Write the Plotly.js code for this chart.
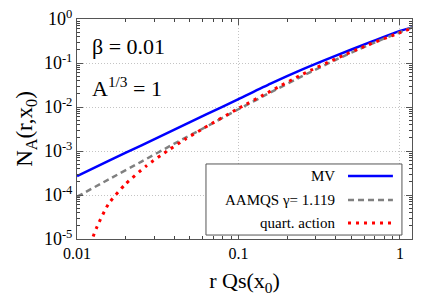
<!DOCTYPE html>
<html><head><meta charset="utf-8">
<script src="https://cdn.plot.ly/plotly-3.0.1.min.js"></script>
<style>html,body{margin:0;padding:0;background:#fff}#c{width:436px;height:305px}</style>
</head><body><div id="c"></div>
<script>
// r Qs(x0) values and N_A values
var rGrid = [0.01, 0.0158, 0.0251, 0.0398, 0.0631, 0.1, 0.158, 0.251, 0.398, 0.631, 1.0, 1.19];
var nMV = [2.69e-4, 6.03e-4, 1.35e-3, 3.02e-3, 6.76e-3, 1.51e-2, 3.39e-2, 7.24e-2, 0.145, 0.282, 0.537, 0.646];
var nAAMQS = [9.1e-5, 2.29e-4, 5.75e-4, 1.45e-3, 3.55e-3, 8.9e-3, 2.14e-2, 5.13e-2, 0.117, 0.251, 0.50, 0.646];
var rQuart = [0.0121, 0.01245, 0.01324, 0.01563, 0.01986, 0.02685, 0.0369, 0.04688, 0.061, 0.1, 0.158, 0.251, 0.398, 0.631, 1.0, 1.19];
var nQuart = [5e-6, 1e-5, 1.82e-5, 6.17e-5, 1.74e-4, 4.57e-4, 1.05e-3, 1.86e-3, 3.31e-3, 9.3e-3, 2.29e-2, 5.62e-2, 0.123, 0.257, 0.49, 0.617];
var seriesNames = ["MV", "AAMQS γ= 1.119", "quart. action"];
var xTickVals = [0.01, 0.1, 1];
var xTickText = ["0.01", "0.1", "1"];
var yTickVals = [1e-5, 1e-4, 1e-3, 1e-2, 1e-1, 1];
var yTickText = ["10<sup>-5</sup>", "10<sup>-4</sup>", "10<sup>-3</sup>", "10<sup>-2</sup>", "10<sup>-1</sup>", "10<sup>0</sup>"];
var minorDigits = [2, 3, 4, 5, 6, 7, 8, 9];
var xMinorDecades = [0.01, 0.1, 1];
var yMinorDecades = [1e-5, 1e-4, 1e-3, 1e-2, 1e-1];

var FONT = "Liberation Serif";
var colors = ["#0000ff", "#808080", "#ff0000"];
var dashes = ["solid", "6px,4px", "3px,5px"];
var widths = [2.5, 2.5, 3];
var xRange = [-2, 0.0745], yRange = [-5, 0];

function minorVals(decades) {
  var v = [];
  decades.forEach(function (d) { minorDigits.forEach(function (m) { v.push(m * d); }); });
  return v;
}

var traces = [
  {x: rGrid, y: nMV, name: seriesNames[0]},
  {x: rGrid, y: nAAMQS, name: seriesNames[1]},
  {x: rQuart, y: nQuart, name: seriesNames[2]}
].map(function (t, i) {
  t.type = "scatter"; t.mode = "lines";
  t.line = {color: colors[i], width: widths[i], dash: dashes[i], shape: "spline", smoothing: 0.6};
  t.showlegend = false;
  return t;
});
// empty helper trace so the minor-tick overlay axes are drawn
traces.push({type: "scatter", mode: "lines", x: [], y: [], xaxis: "x2", yaxis: "y2", showlegend: false});

var frame = "#555555";
function majorAxis(extra) {
  return Object.assign({
    type: "log", showline: true, linecolor: frame, linewidth: 1, mirror: "ticks",
    ticks: "inside", ticklen: 6, tickcolor: frame, tickwidth: 1,
    showgrid: true, gridcolor: "#c4c4c4", griddash: "1px,2px", gridwidth: 1,
    zeroline: false, tickmode: "array"
  }, extra);
}
function minorAxis(extra) {
  return Object.assign({
    type: "log", showline: true, linecolor: frame, linewidth: 1, mirror: "ticks",
    ticks: "inside", ticklen: 3, tickcolor: "#444444", tickwidth: 1,
    showgrid: false, zeroline: false, showticklabels: false, tickmode: "array"
  }, extra);
}

var layout = {
  width: 436, height: 305,
  margin: {l: 77, r: 24, t: 19, b: 66},
  paper_bgcolor: "#ffffff", plot_bgcolor: "#ffffff",
  showlegend: false,
  font: {family: FONT, size: 16, color: "#000000"},
  xaxis: majorAxis({
    range: xRange, tickvals: xTickVals, ticktext: xTickText,
    tickfont: {family: FONT, size: 16, color: "#000000"},
    title: {text: "r Qs(x<sub>0</sub>)", font: {family: FONT, size: 22, color: "#000000"}, standoff: 11}
  }),
  yaxis: majorAxis({
    range: yRange, tickvals: yTickVals, ticktext: yTickText,
    tickfont: {family: FONT, size: 18, color: "#000000"},
    title: {text: "N<sub>A</sub>(r,x<sub>0</sub>)", font: {family: FONT, size: 23, color: "#000000"}, standoff: 4}
  }),
  xaxis2: minorAxis({overlaying: "x", anchor: "y2", side: "bottom", range: xRange, tickvals: minorVals(xMinorDecades)}),
  yaxis2: minorAxis({overlaying: "y", anchor: "x2", side: "left", range: yRange, tickvals: minorVals(yMinorDecades)}),
  annotations: [
    {xref: "paper", yref: "paper", x: 0.04, y: 0.875, xanchor: "left", yanchor: "middle", showarrow: false,
     text: "β = 0.01", font: {family: FONT, size: 22, color: "#000000"}},
    {xref: "paper", yref: "paper", x: 0.04, y: 0.69, xanchor: "left", yanchor: "middle", showarrow: false,
     text: "A<sup>1/3</sup> = 1", font: {family: FONT, size: 22, color: "#000000"}}
  ],
  shapes: [
    {type: "rect", xref: "paper", yref: "paper", x0: 0.385, x1: 0.970, y0: 0.018, y1: 0.341,
     line: {color: frame, width: 1}, fillcolor: "#ffffff", layer: "above"}
  ]
};

var legY = [0.286, 0.177, 0.073];
for (var i = 0; i < 3; i++) {
  layout.annotations.push({xref: "paper", yref: "paper", x: 0.776, y: legY[i], xanchor: "right", yanchor: "middle",
    showarrow: false, text: seriesNames[i], font: {family: FONT, size: 15, color: "#000000"}});
  layout.shapes.push({type: "line", xref: "paper", yref: "paper", x0: 0.809, x1: 0.943, y0: legY[i], y1: legY[i],
    line: {color: colors[i], width: widths[i], dash: dashes[i]}, layer: "above"});
}

Plotly.newPlot("c", traces, layout, {staticPlot: true, displayModeBar: false});
</script>
</body></html>
